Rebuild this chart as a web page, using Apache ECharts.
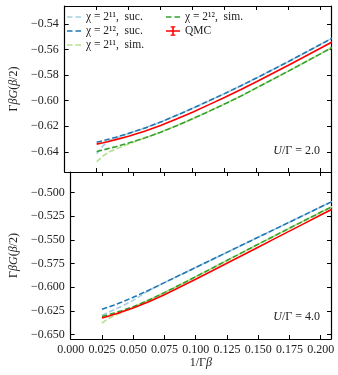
<!DOCTYPE html>
<html>
<head>
<meta charset="utf-8">
<script src="https://cdn.jsdelivr.net/npm/echarts@6/dist/echarts.min.js"></script>
<style>
html,body{margin:0;padding:0;background:#fff;}
#chart{width:338px;height:375px;}
</style>
</head>
<body>
<div id="chart"></div>
<script>
// ---- data ----
var xs = [0.025, 0.03, 0.035, 0.04, 0.05, 0.0625, 0.075, 0.0875, 0.1, 0.1125, 0.125, 0.1375, 0.15, 0.1625, 0.175, 0.1875, 0.2, 0.2125];

// Top panel: U/Γ = 2.0
var top_suc11 = [-0.6415, -0.6352, -0.6312, -0.6292, -0.6258, -0.6215, -0.6168, -0.6115, -0.6060, -0.6003, -0.5945, -0.5885, -0.5823, -0.5759, -0.5694, -0.5628, -0.5561, -0.5494];
var top_suc12 = [-0.6325, -0.6313, -0.6300, -0.6286, -0.6256, -0.6215, -0.6168, -0.6115, -0.6060, -0.6003, -0.5945, -0.5885, -0.5823, -0.5759, -0.5694, -0.5628, -0.5561, -0.5494];
var top_sim11 = [-0.6478, -0.6432, -0.6400, -0.6378, -0.6340, -0.6293, -0.6247, -0.6196, -0.6142, -0.6085, -0.6027, -0.5966, -0.5900, -0.5835, -0.5769, -0.5702, -0.5634, -0.5566];
var top_sim12 = [-0.6398, -0.6386, -0.6373, -0.6360, -0.6332, -0.6292, -0.6247, -0.6196, -0.6142, -0.6085, -0.6027, -0.5966, -0.5900, -0.5835, -0.5769, -0.5702, -0.5634, -0.5566];
var top_qmc   = [-0.6340, -0.6329, -0.6317, -0.6305, -0.6278, -0.6240, -0.6195, -0.6144, -0.6090, -0.6033, -0.5975, -0.5915, -0.5852, -0.5788, -0.5723, -0.5657, -0.5590, -0.5523];

// Bottom panel: U/Γ = 4.0
var bot_suc11 = [-0.6300, -0.6268, -0.6238, -0.6208, -0.6140, -0.6036, -0.5952, -0.5872, -0.5792, -0.5712, -0.5632, -0.5552, -0.5472, -0.5392, -0.5312, -0.5232, -0.5152, -0.5072];
var bot_suc12 = [-0.6235, -0.6212, -0.6188, -0.6163, -0.6108, -0.6032, -0.5952, -0.5872, -0.5792, -0.5712, -0.5632, -0.5552, -0.5472, -0.5392, -0.5312, -0.5232, -0.5152, -0.5072];
var bot_sim11 = [-0.6380, -0.6335, -0.6300, -0.6270, -0.6214, -0.6137, -0.6058, -0.5975, -0.5890, -0.5804, -0.5718, -0.5632, -0.5546, -0.5461, -0.5376, -0.5292, -0.5208, -0.5125];
var bot_sim12 = [-0.6310, -0.6292, -0.6273, -0.6253, -0.6208, -0.6137, -0.6058, -0.5975, -0.5890, -0.5804, -0.5718, -0.5632, -0.5546, -0.5461, -0.5376, -0.5292, -0.5208, -0.5125];
var bot_qmc   = [-0.6327, -0.6308, -0.6288, -0.6267, -0.6222, -0.6155, -0.6080, -0.5999, -0.5916, -0.5832, -0.5747, -0.5662, -0.5577, -0.5492, -0.5407, -0.5322, -0.5237, -0.5152];

var seriesNames = ['χ = 2¹¹,  suc.', 'χ = 2¹²,  suc.', 'χ = 2¹¹,  sim.', 'χ = 2¹²,  sim.', 'QMC'];
var xTicks = [0, 0.025, 0.05, 0.075, 0.1, 0.125, 0.15, 0.175, 0.2];
var yTicksTop = [-0.64, -0.62, -0.60, -0.58, -0.56, -0.54];
var yTicksBot = [-0.650, -0.625, -0.600, -0.575, -0.550, -0.525, -0.500];
var panelLabels = ['2.0', '4.0'];

// ---- styling / layout ----
var FONT = 'Liberation Serif';
var FS = 12;
var colors = ['#a6cee3', '#1f78b4', '#b2df8a', '#33a02c', '#ff0000'];
var XMIN = 0, XMAX = 0.2083;
var TOPMIN = -0.6558, TOPMAX = -0.526;
var BOTMIN = -0.6549, BOTMAX = -0.4781;

function minus(s) { return s.replace('-', '\u2212'); }
function pairs(ys) { return xs.map(function (x, i) { return [x, ys[i]]; }); }

var richMath = {
  u: { fontFamily: FONT, fontSize: FS, color: '#222' },
  i: { fontFamily: FONT, fontSize: FS, fontStyle: 'italic', color: '#222' }
};
var axisLineStyle = { color: '#000', width: 1.2 };
function xAxisDef(grid, pos, showLabel) {
  return {
    type: 'value', gridIndex: grid, position: pos, min: XMIN, max: XMAX,
    axisLine: { show: true, lineStyle: axisLineStyle, onZero: false },
    axisTick: { show: true, inside: true, length: 4, lineStyle: { color: '#000', width: 1 }, customValues: xTicks },
    axisLabel: { show: showLabel, customValues: xTicks, margin: 5, fontFamily: FONT, fontSize: FS, color: '#222',
      formatter: function (v) { return minus(v.toFixed(3)); } },
    splitLine: { show: false }
  };
}
function yAxisDef(grid, pos, showLabel, mn, mx, ticks, dec, named) {
  var a = {
    type: 'value', gridIndex: grid, position: pos, min: mn, max: mx,
    axisLine: { show: true, lineStyle: axisLineStyle, onZero: false },
    axisTick: { show: true, inside: true, length: 4, lineStyle: { color: '#000', width: 1 }, customValues: ticks },
    axisLabel: { show: showLabel, customValues: ticks, margin: 6, fontFamily: FONT, fontSize: FS, color: '#222',
      formatter: function (v) { return minus(v.toFixed(dec)); } },
    splitLine: { show: false }
  };
  if (named) {
    a.name = '{u|Γ}{i|βG}{u|(}{i|β}{u|/2)}';
    a.nameLocation = 'middle';
    a.nameRotate = 90;
    a.nameGap = 41;
    a.nameTextStyle = { fontFamily: FONT, fontSize: FS, color: '#222', rich: richMath };
  }
  return a;
}

var xAxes = [xAxisDef(0, 'bottom', false), xAxisDef(0, 'top', false), xAxisDef(1, 'bottom', true), xAxisDef(1, 'top', false)];
xAxes[2].name = '{u|1/Γ}{i|β}';
xAxes[2].nameLocation = 'middle';
xAxes[2].nameGap = 17;
xAxes[2].nameTextStyle = { fontFamily: FONT, fontSize: FS, color: '#222', rich: richMath };

var yAxes = [
  yAxisDef(0, 'left', true, TOPMIN, TOPMAX, yTicksTop, 2, true),
  yAxisDef(0, 'right', false, TOPMIN, TOPMAX, yTicksTop, 2, false),
  yAxisDef(1, 'left', true, BOTMIN, BOTMAX, yTicksBot, 3, true),
  yAxisDef(1, 'right', false, BOTMIN, BOTMAX, yTicksBot, 3, false)
];

var panelData = [
  [top_suc11, top_suc12, top_sim11, top_sim12, top_qmc],
  [bot_suc11, bot_suc12, bot_sim11, bot_sim12, bot_qmc]
];

var series = [];
for (var p = 0; p < 2; p++) {
  for (var k = 0; k < 5; k++) {
    var isQ = (k === 4);
    series.push({
      type: 'line', name: seriesNames[k],
      xAxisIndex: p * 2, yAxisIndex: p * 2,
      data: pairs(panelData[p][k]),
      symbol: 'none', showSymbol: false,
      lineStyle: { color: colors[k], width: 1.6, type: isQ ? 'solid' : [5.5, 2.5] },
      itemStyle: { color: colors[k] },
      animation: false, silent: true, z: 2 + k
    });
  }
}

// legend handles: two dashes for the tensor-network curves, line + error bar for QMC
var dashIcon = 'path://M0,0L0,0M14,10L14,10M0,4.2h5.5v1.6h-5.5zM8.5,4.2h5.5v1.6h-5.5z';
var qmcIcon = 'path://M0,0L0,0M14,10L14,10M0,4.2h14v1.6h-14zM6.2,0.3h1.6v9.4h-1.6zM4.6,0.3h4.8v1.2h-4.8zM4.6,8.5h4.8v1.2h-4.8z';
function legendItems(names) {
  return names.map(function (n) {
    var k = seriesNames.indexOf(n);
    return { name: n, icon: k === 4 ? qmcIcon : dashIcon, itemStyle: { color: colors[k], borderWidth: 0 } };
  });
}
var legendText = { fontFamily: FONT, fontSize: 11.5, color: '#222', lineHeight: 14 };
var option = {
  animation: false,
  backgroundColor: '#fff',
  grid: [
    { left: 61, top: 6, width: 270, height: 166 },
    { left: 61, top: 172, width: 270, height: 167 }
  ],
  xAxis: xAxes,
  yAxis: yAxes,
  legend: [
    { data: legendItems(seriesNames.slice(0, 3)), orient: 'vertical', left: 67, top: 10, padding: 0, itemGap: 0,
      itemWidth: 14, itemHeight: 10, textStyle: legendText, selectedMode: false },
    { data: legendItems(seriesNames.slice(3, 5)), orient: 'vertical', left: 166, top: 10, padding: 0, itemGap: 0,
      itemWidth: 14, itemHeight: 10, textStyle: legendText, selectedMode: false }
  ],
  graphic: [
    { type: 'text', right: 18, top: 145, style: { text: '{i|U}{u|/Γ = ' + panelLabels[0] + '}', rich: {
      i: { fontFamily: FONT, fontSize: FS, fontStyle: 'italic', fill: '#222' }, u: { fontFamily: FONT, fontSize: FS, fill: '#222' } } } },
    { type: 'text', right: 18, top: 311, style: { text: '{i|U}{u|/Γ = ' + panelLabels[1] + '}', rich: {
      i: { fontFamily: FONT, fontSize: FS, fontStyle: 'italic', fill: '#222' }, u: { fontFamily: FONT, fontSize: FS, fill: '#222' } } } }
  ],
  series: series
};

var chart = echarts.init(document.getElementById('chart'), null, { renderer: 'canvas' });
chart.setOption(option);
</script>
</body>
</html>
